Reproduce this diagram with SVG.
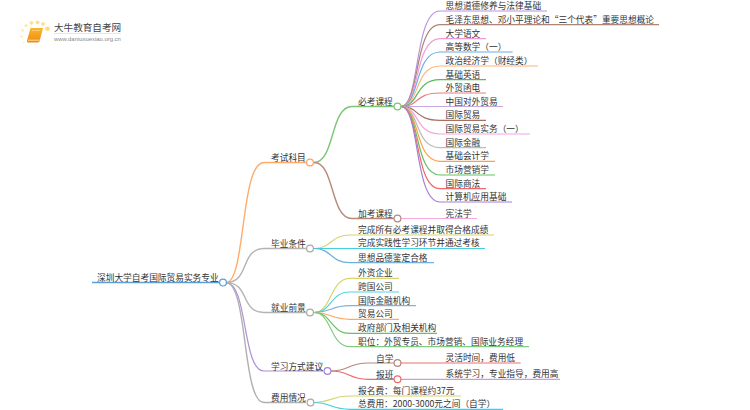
<svg xmlns="http://www.w3.org/2000/svg" width="750" height="410" viewBox="0 0 750 410">
<style>
text{font-family:"Noto Sans CJK SC","Liberation Sans",sans-serif;font-size:8.7px;fill:#333}
.c path{fill:none;stroke-width:1.2}
.n{fill:#fff;stroke-width:1.2}
</style>
<defs><linearGradient id="bk" x1="0" y1="0" x2="0" y2="1"><stop offset="0" stop-color="#fbb62e"/><stop offset="1" stop-color="#f08a12"/></linearGradient></defs>
<rect width="750" height="410" fill="#fff"/>
<g id="logo">
<g stroke="none"><circle cx="47.500" cy="28.700" r="2.300" fill="#ffd97a"/><circle cx="43" cy="24" r="1.900" fill="#ffe090"/><circle cx="37.500" cy="22.300" r="1.900" fill="#ffdf8c"/><circle cx="31.500" cy="22.800" r="1.900" fill="#ffe090"/><circle cx="26" cy="25.500" r="1.600" fill="#ffe8a8"/><circle cx="22.500" cy="30.500" r="1.400" fill="#ffeab8"/><circle cx="21.500" cy="36.500" r="1.200" fill="#ffeab8"/><circle cx="23.500" cy="42.500" r="1" fill="#fff0c8"/></g>
<path d="M30.500 28H43L39.500 41.500Q39 42.500 37.500 42.500H28Q26.500 42.500 27 40.500Z" fill="url(#bk)"/>
<path d="M28 40.200H39.500" fill="none" stroke="#fde0a0" stroke-width="1"/>
<path d="M32 30.500H40" fill="none" stroke="#fcd488" stroke-width="0.700"/>
<text x="54" y="30.500" style="font-size:9.600px;fill:#444">大牛教育自考网</text>
<path d="M54 33.500H121" stroke="#ddd" stroke-width="0.700"/>
<text x="54" y="41" style="font-size:5.900px;fill:#888;font-family:'Liberation Sans',sans-serif">www.daniuxuexiao.org.cn</text>
</g>
<g id="connectors" class="c">
<path d="M92 282.600H223" stroke="#5b9fd6" style="stroke-width:1.500"/>
<path d="M226 282.600C246 282.600 240 162.500 264 162.500H306" stroke="#ffab6b" style="stroke-width:1.400"/>
<path d="M226 282.600C250 282.600 240 248.500 264 248.500H306" stroke="#b3b3b3" style="stroke-width:1.400"/>
<path d="M226 282.600C250 282.600 240 312.500 264 312.500H306" stroke="#b3b3b3" style="stroke-width:1.400"/>
<path d="M226 282.600C248 282.600 242 371 264 371H323" stroke="#b08ed8"/>
<path d="M226 282.600C248 282.600 242 402.500 264 402.500H306" stroke="#b0b0b0" style="stroke-width:1.400"/>
<path d="M314 162.500C335 162.500 330 106.500 352 106.500H394" stroke="#7cc576" style="stroke-width:1.400"/>
<path d="M314 162.500C335 162.500 330 218.500 352 218.500H394" stroke="#b5897c" style="stroke-width:1.400"/>
<path d="M401 106.500C420 106.500 414 11 440 11H547" stroke="#b795dd"/>
<path d="M401 106.500C420 106.500 414 24.700 440 24.700H659" stroke="#ad8578"/>
<path d="M401 106.500C420 106.500 414 38.700 440 38.700H486" stroke="#f29ad8"/>
<path d="M401 106.500C420 106.500 414 52 440 52H512.700" stroke="#6aaee0"/>
<path d="M401 106.500C420 106.500 414 66 440 66H538" stroke="#ffb677"/>
<path d="M401 106.500C420 106.500 414 79.700 440 79.700H486" stroke="#5cb85c"/>
<path d="M401 106.500C420 106.500 414 93 440 93H486" stroke="#e88080"/>
<path d="M401 106.500H503" stroke="#c9a8e0"/>
<path d="M401 106.500C420 106.500 414 120.300 440 120.300H486" stroke="#a87060"/>
<path d="M401 106.500C420 106.500 414 134 440 134H530" stroke="#f4a6e0"/>
<path d="M401 106.500C420 106.500 414 147.700 440 147.700H486" stroke="#bbb"/>
<path d="M401 106.500C420 106.500 414 161.300 440 161.300H495" stroke="#ffa040"/>
<path d="M401 106.500C420 106.500 414 175 440 175H495" stroke="#66c266"/>
<path d="M401 106.500C420 106.500 414 188.700 440 188.700H486" stroke="#ee6a6a"/>
<path d="M401 106.500C420 106.500 414 202 440 202H512" stroke="#a47fd8"/>
<path d="M401 218.500H477" stroke="#f7a8e0"/>
<path d="M314 248.500C332 248.500 330 235 350 235H494" stroke="#d8d470"/>
<path d="M314 248.500H485" stroke="#45cfe0"/>
<path d="M314 248.500C332 248.500 330 262.700 350 262.700H434" stroke="#6fb0dc"/>
<path d="M314 312.500C332 312.500 330 278.300 350 278.300H399" stroke="#d8d470"/>
<path d="M314 312.500C332 312.500 330 292 350 292H399" stroke="#55d5e5"/>
<path d="M314 312.500C332 312.500 330 305.700 350 305.700H416" stroke="#7fb2dc"/>
<path d="M314 312.500C332 312.500 330 319.300 350 319.300H399" stroke="#ffa860"/>
<path d="M314 312.500C332 312.500 330 333.300 350 333.300H437" stroke="#66c266"/>
<path d="M314 312.500C332 312.500 330 346.700 350 346.700H529" stroke="#82cc82"/>
<path d="M331 371C350 371 348 363 368 363H394" stroke="#b5897c"/>
<path d="M331 371C350 371 348 379.300 368 379.300H394" stroke="#ec6a6a"/>
<path d="M401 363H520.700" stroke="#ec7070"/>
<path d="M401 379.300H560" stroke="#c19fe0"/>
<path d="M314 402.500C332 402.500 330 396 350 396H461" stroke="#d8d470"/>
<path d="M314 402.500C332 402.500 330 409.300 350 409.300H503" stroke="#45cfe0"/>
</g>
<g id="root"><text x="97" y="280.700">深圳大学自考国际贸易实务专业</text><circle class="n" cx="223" cy="282.600" r="3.400" stroke="#5b9fd6"/></g>
<g id="n-kaoshi"><text x="271" y="161">考试科目</text><circle class="n" cx="310" cy="162.500" r="3.400" stroke="#ffa35c"/></g>
<g id="n-biye"><text x="271" y="247">毕业条件</text><circle class="n" cx="310" cy="248.500" r="3.400" stroke="#aaa"/></g>
<g id="n-jiuye"><text x="271" y="311">就业前景</text><circle class="n" cx="310" cy="312.500" r="3.400" stroke="#aaa"/></g>
<g id="n-xuexi"><text x="271" y="369.500">学习方式建议</text><circle class="n" cx="327.500" cy="371" r="3.400" stroke="#a57fd8"/></g>
<g id="n-feiyong"><text x="271" y="401">费用情况</text><circle class="n" cx="310.500" cy="402.500" r="3.400" stroke="#aaa"/></g>
<g id="n-bikao"><text x="358" y="105">必考课程</text><circle class="n" cx="397.500" cy="106.500" r="3.400" stroke="#7cc576"/></g>
<g id="n-jiakao"><text x="358" y="217">加考课程</text><circle class="n" cx="397.500" cy="218.500" r="3.400" stroke="#b5897c"/></g>
<g id="n-zixue"><text x="376" y="361.500">自学</text><circle class="n" cx="397.500" cy="363" r="3.400" stroke="#b5897c"/></g>
<g id="n-baoban"><text x="376" y="377.800">报班</text><circle class="n" cx="397.500" cy="379.300" r="3.400" stroke="#ec6a6a"/></g>
<g id="leaves">
<text x="445.500" y="9">思想道德修养与法律基础</text>
<text x="445.500" y="22.700">毛泽东思想、邓小平理论和“三个代表”重要思想概论</text>
<text x="445.500" y="36.700">大学语文</text>
<text x="445.500" y="50">高等数学（一）</text>
<text x="445.500" y="64">政治经济学（财经类）</text>
<text x="445.500" y="77.700">基础英语</text>
<text x="445.500" y="91">外贸函电</text>
<text x="445.500" y="104.700">中国对外贸易</text>
<text x="445.500" y="118.300">国际贸易</text>
<text x="445.500" y="132">国际贸易实务（一）</text>
<text x="445.500" y="145.700">国际金融</text>
<text x="445.500" y="159.300">基础会计学</text>
<text x="445.500" y="173">市场营销学</text>
<text x="445.500" y="186.700">国际商法</text>
<text x="445.500" y="200">计算机应用基础</text>
<text x="445.500" y="216.500">宪法学</text>
<text x="358" y="233">完成所有必考课程并取得合格成绩</text>
<text x="358" y="246.300">完成实践性学习环节并通过考核</text>
<text x="358" y="260.700">思想品德鉴定合格</text>
<text x="358" y="276.300">外资企业</text>
<text x="358" y="290">跨国公司</text>
<text x="358" y="303.700">国际金融机构</text>
<text x="358" y="317.300">贸易公司</text>
<text x="358" y="331.300">政府部门及相关机构</text>
<text x="358" y="344.700">职位：外贸专员、市场营销、国际业务经理</text>
<text x="445.500" y="361">灵活时间，费用低</text>
<text x="445.500" y="377.300">系统学习，专业指导，费用高</text>
<text x="358" y="394">报名费：每门课程约37元</text>
<text x="358" y="407.300">总费用：2000-3000元之间（自学）</text>
</g>
</svg>
